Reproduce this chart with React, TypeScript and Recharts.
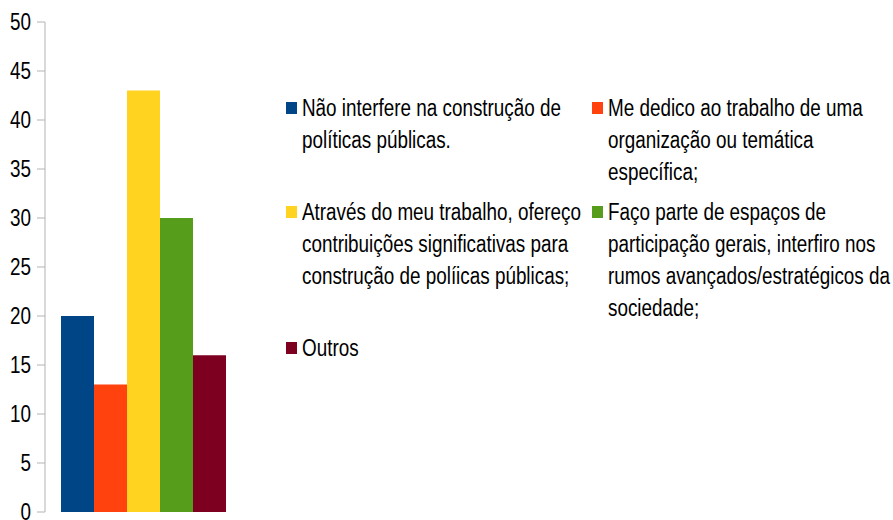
import { BarChart, Bar, XAxis, YAxis, CartesianGrid } from "recharts";

const series = ["naoInterfere", "meDedico", "atraves", "facoParte", "outros"];
const values = [20, 13, 43, 30, 16];
const labels = [
  "Não interfere na construção de\npolíticas públicas.",
  "Me dedico ao trabalho de uma\norganização ou temática\nespecífica;",
  "Através do meu trabalho, ofereço\ncontribuições significativas para\nconstrução de políicas públicas;",
  "Faço parte de espaços de\nparticipação gerais, interfiro nos\nrumos avançados/estratégicos da\nsociedade;",
  "Outros",
];
const colors = ["#004586", "#ff420e", "#ffd320", "#579d1c", "#7e0021"];
const yTicks = [0, 5, 10, 15, 20, 25, 30, 35, 40, 45, 50];

const row: Record<string, number | string> = { name: "" };
series.forEach((s, i) => {
  row[s] = values[i];
});
const data = [row];

// no narrow font installed, so squeeze Liberation Sans horizontally
const FONT = '"Liberation Sans", Arimo, sans-serif';
const NARROW = 0.82;

function YTick(props: any) {
  const { x, y, payload } = props;
  return (
    <text
      x={x}
      y={y}
      dy="0.355em"
      textAnchor="end"
      fill="#000"
      fontSize={23}
      fontFamily={FONT}
      transform={`translate(${x},0) scale(${NARROW},1) translate(${-x},0)`}
    >
      {payload.value}
    </text>
  );
}

function LegendBox() {
  return (
    <div
      style={{
        position: "absolute",
        left: 286,
        top: 92,
        display: "grid",
        gridTemplateColumns: "306px 300px",
        rowGap: 8,
        fontFamily: FONT,
        fontSize: 23,
        lineHeight: "32px",
        color: "#000",
      }}
    >
      {series.map((s, i) => (
        <div key={s} style={{ display: "flex", alignItems: "flex-start" }}>
          <div
            style={{
              width: 11,
              height: 12,
              background: colors[i],
              marginTop: 10,
              marginRight: 5,
              flex: "none",
            }}
          />
          <div
            style={{
              whiteSpace: "pre",
              transform: `scaleX(${NARROW})`,
              transformOrigin: "left top",
            }}
          >
            {labels[i]}
          </div>
        </div>
      ))}
    </div>
  );
}

export default function App() {
  return (
    <div style={{ position: "absolute", left: 0, top: 0, width: 893, height: 520, background: "#fff", overflow: "hidden" }}>
      <BarChart
        width={893}
        height={520}
        data={data}
        margin={{ top: 22, right: 653, bottom: 8, left: 0 }}
        barCategoryGap={16}
        barGap={0}
        style={{ overflow: "visible" }}
      >
        <CartesianGrid stroke="#b3b3b3" vertical={false} syncWithTicks />
        <XAxis dataKey="name" hide />
        <YAxis
          yAxisId="left"
          domain={[0, 50]}
          ticks={yTicks}
          interval={0}
          width={45}
          tickSize={8}
          tickMargin={6}
          stroke="#b3b3b3"
          tick={<YTick />}
        />
        <YAxis
          yAxisId="right"
          orientation="right"
          domain={[0, 50]}
          width={0}
          tick={false}
          tickLine={false}
          stroke="#b3b3b3"
        />
        {series.map((s, i) => (
          <Bar
            key={s}
            yAxisId="left"
            dataKey={s}
            fill={colors[i]}
            isAnimationActive={false}
          />
        ))}
      </BarChart>
      <LegendBox />
    </div>
  );
}
